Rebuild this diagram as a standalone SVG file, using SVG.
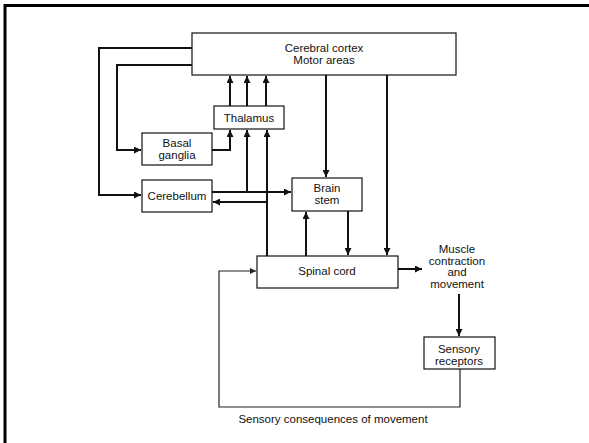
<svg xmlns="http://www.w3.org/2000/svg" width="589" height="443" viewBox="0 0 589 443">
<style>
.box{fill:#fff;stroke:#111;stroke-width:1.2}
.t{font-family:"Liberation Sans",Arial,sans-serif;font-size:11.5px;fill:#111;text-anchor:middle}
.c{fill:none;stroke:#111;stroke-width:2}
.f{fill:none;stroke:#222;stroke-width:1.2}
</style>
<defs>
<marker id="ah" viewBox="0 0 10 10" refX="10" refY="5" markerWidth="9" markerHeight="7" markerUnits="userSpaceOnUse" orient="auto"><path d="M0,0L10,5L0,10z" fill="#111"/></marker>
<marker id="ahs" viewBox="0 0 10 10" refX="10" refY="5" markerWidth="9" markerHeight="6" markerUnits="userSpaceOnUse" orient="auto"><path d="M0,0L10,5L0,10z" fill="#222"/></marker>
</defs>
<rect width="589" height="443" fill="#fff"/>
<path d="M5,443V5.5H589" fill="none" stroke="#000" stroke-width="3"/>
<g id="connectors">
<path class="c" d="M192,48H99V195H141" marker-end="url(#ah)"/>
<path class="c" d="M192,65H117V150H141" marker-end="url(#ah)"/>
<path class="c" d="M212,150H230V130" marker-end="url(#ah)"/>
<path class="c" d="M230,106V76" marker-end="url(#ah)"/>
<path class="c" d="M247,106V76" marker-end="url(#ah)"/>
<path class="c" d="M266,106V76" marker-end="url(#ah)"/>
<path class="c" d="M212,192H291" marker-end="url(#ah)"/>
<path class="c" d="M247,192V130" marker-end="url(#ah)"/>
<path class="c" d="M267,256V130" marker-end="url(#ah)"/>
<path class="c" d="M267,202H213" marker-end="url(#ah)"/>
<path class="c" d="M326,75V177" marker-end="url(#ah)"/>
<path class="c" d="M387,75V255" marker-end="url(#ah)"/>
<path class="c" d="M306,256V212" marker-end="url(#ah)"/>
<path class="c" d="M348,211V255" marker-end="url(#ah)"/>
<path class="c" d="M398,269H422" marker-end="url(#ah)"/>
<path class="c" d="M459,294V336" marker-end="url(#ah)"/>
<path class="f" d="M460,369V407H219V271H256" marker-end="url(#ahs)"/>
</g>
<g id="cortex"><rect class="box" x="192" y="33" width="264" height="42"/><text class="t" x="324" y="52">Cerebral cortex</text><text class="t" x="324" y="64">Motor areas</text></g>
<g id="thalamus"><rect class="box" x="214" y="106" width="70" height="23"/><text class="t" x="249" y="122">Thalamus</text></g>
<g id="basal"><rect class="box" x="142" y="133" width="70" height="32"/><text class="t" x="177" y="147">Basal</text><text class="t" x="177" y="159">ganglia</text></g>
<g id="cerebellum"><rect class="box" x="142" y="180" width="70" height="32"/><text class="t" x="177" y="200">Cerebellum</text></g>
<g id="brainstem"><rect class="box" x="292" y="178" width="70" height="33"/><text class="t" x="327" y="192">Brain</text><text class="t" x="327" y="204">stem</text></g>
<g id="spinal"><rect class="box" x="257" y="256" width="141" height="32"/><text class="t" x="327" y="275">Spinal cord</text></g>
<g id="muscle"><text class="t" x="457" y="253">Muscle</text><text class="t" x="457" y="265">contraction</text><text class="t" x="457" y="276">and</text><text class="t" x="457" y="288">movement</text></g>
<g id="receptors"><rect class="box" x="424" y="337" width="71" height="32"/><text class="t" x="459" y="353">Sensory</text><text class="t" x="459" y="365">receptors</text></g>
<g id="feedback-label"><text class="t" x="333" y="423">Sensory consequences of movement</text></g>
</svg>
